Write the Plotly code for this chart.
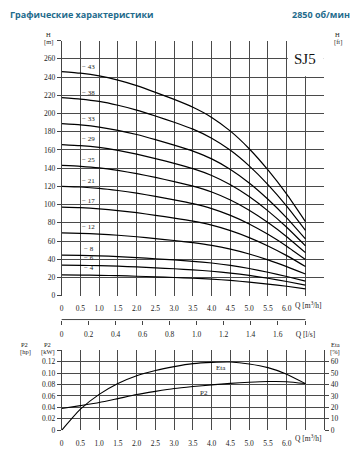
import numpy as np
import plotly.graph_objects as go

# ---------------- data ----------------
Q = [0, 0.5, 1.0, 1.5, 2.0, 2.5, 3.0, 3.5, 4.0, 4.5, 5.0, 5.5, 6.0, 6.5]

H_43 = [246.0, 244.2, 241.2, 236.5, 230.5, 223.2, 215.4, 206.8, 195.7, 180.6, 161.3, 138.0, 111.4, 81.3]
H_38 = [217.4, 215.8, 213.2, 209.0, 203.7, 197.2, 190.4, 182.8, 172.9, 159.6, 142.5, 122.0, 98.4, 71.8]
H_33 = [188.8, 187.4, 185.1, 181.5, 176.9, 171.3, 165.3, 158.7, 150.2, 138.6, 123.8, 105.9, 85.5, 62.4]
H_29 = [165.9, 164.7, 162.7, 159.5, 155.4, 150.5, 145.3, 139.5, 132.0, 121.8, 108.8, 93.1, 75.1, 54.8]
H_25 = [143.0, 142.0, 140.3, 137.5, 134.0, 129.8, 125.3, 120.3, 113.8, 105.0, 93.8, 80.3, 64.8, 47.3]
H_21 = [120.1, 119.3, 117.8, 115.5, 112.6, 109.0, 105.2, 101.0, 95.6, 88.2, 78.8, 67.4, 54.4, 39.7]
H_17 = [97.2, 96.6, 95.4, 93.5, 91.1, 88.2, 85.2, 81.8, 77.4, 71.4, 63.8, 54.6, 44.0, 32.1]
H_12 = [69.0, 68.5, 67.7, 66.4, 64.7, 62.7, 60.6, 58.2, 55.2, 51.1, 45.8, 39.4, 32.0, 23.8]
H_8 = [44.6, 44.3, 43.8, 43.0, 41.9, 40.6, 39.3, 37.8, 35.9, 33.3, 29.9, 25.8, 21.1, 16.0]
H_6 = [33.6, 33.4, 33.0, 32.4, 31.6, 30.6, 29.6, 28.4, 26.9, 24.9, 22.3, 19.2, 15.6, 11.7]
H_4 = [22.9, 22.7, 22.4, 22.0, 21.4, 20.8, 20.0, 19.2, 18.2, 16.8, 15.0, 12.8, 10.4, 7.6]

STAGE_LABELS = ["43", "38", "33", "29", "25", "21", "17", "12", "8", "6", "4"]
HEAD_CURVES = [H_43, H_38, H_33, H_29, H_25, H_21, H_17, H_12, H_8, H_6, H_4]

Q_ETA = [0, 0.25, 0.5, 1.0, 1.5, 2.0, 2.5, 3.0, 3.5, 4.0, 4.5, 5.0, 5.5, 6.0, 6.5]
ETA = [0, 9.5, 18.5, 31.4, 40.9, 47.7, 52.3, 55.7, 58.3, 59.4, 59.7, 58.0, 54.8, 49.1, 40.8]

Q_P2 = [0, 0.5, 1.0, 1.5, 2.0, 2.5, 3.0, 3.5, 4.0, 4.5, 5.0, 5.5, 6.0, 6.5]
P2_KW = [0.0382, 0.0432, 0.0485, 0.0554, 0.0625, 0.0680, 0.0730, 0.0765, 0.0795, 0.0820, 0.0840, 0.0853, 0.0850, 0.0817]

Q_TICKS = [0, 0.5, 1.0, 1.5, 2.0, 2.5, 3.0, 3.5, 4.0, 4.5, 5.0, 5.5, 6.0, 6.5]
Q_TICKTEXT = ["0", "0.5", "1.0", "1.5", "2.0", "2.5", "3.0", "3.5", "4.0", "4.5", "5.0", "5.5", "6.0", ""]
Q_UNIT = "Q [m<sup>3</sup>/h]"
LS_TICKS = [0, 0.2, 0.4, 0.6, 0.8, 1.0, 1.2, 1.4, 1.6, 6.5 / 3.6]
LS_TICKTEXT = ["0", "0.2", "0.4", "0.6", "0.8", "1.0", "1.2", "1.4", "1.6", "Q [l/s]"]
H_M_TICKS = list(range(0, 281, 20))
H_M_TICKTEXT = [str(v) for v in range(0, 261, 20)] + [" "]
H_FT_TICKS = list(range(0, 801, 100))
KW_TICKS = [0, 0.02, 0.04, 0.06, 0.08, 0.10, 0.12, 0.14]
KW_TICKTEXT = ["0", "0.02", "0.04", "0.06", "0.08", "0.10", "0.12", " "]
HP_TICKS = [0, 0.04, 0.08, 0.12, 0.16]
HP_TICKTEXT = ["0", "0.04", "0.08", "0.12", "0.16"]
ETA_TICKS = [0, 10, 20, 30, 40, 50, 60]

M_TO_FT = 3.28084
KW_TO_HP = 1.34102
M3H_TO_LS = 1 / 3.6

# ---------------- style ----------------
W, H = 360, 450
GRID = "#4a4a4a"
AX = "#444444"
TXT = "#222222"
SERIF = "Liberation Serif"
TITLE_C = "#1f6b8c"


def px_x(p):
    return p / W


def px_y(p):
    return 1 - p / H


X_DOM = [px_x(60), px_x(324)]
TOP_DOM = [px_y(297.7), px_y(37.3)]
BOT_DOM = [px_y(435), px_y(353.3)]
X_RANGE = [0, 7.0]
Q_END_PX = 60 + 6.5 * 264 / 7

fig = go.Figure()

for lab, hv in zip(STAGE_LABELS, HEAD_CURVES):
    fig.add_trace(go.Scatter(x=Q, y=hv, mode="lines",
                             line=dict(color="black", width=1.2, shape="spline", smoothing=0.5),
                             xaxis="x", yaxis="y", showlegend=False, hoverinfo="skip"))

# invisible trace so that the l/s axis is drawn
fig.add_trace(go.Scatter(x=[0, LS_TICKS[-1]], y=[None, None], mode="lines", xaxis="x2", yaxis="y",
                         showlegend=False, hoverinfo="skip"))

fig.add_trace(go.Scatter(x=Q_ETA, y=ETA, mode="lines",
                         line=dict(color="black", width=1.1, shape="spline", smoothing=0.6),
                         xaxis="x3", yaxis="y5", showlegend=False, hoverinfo="skip"))
fig.add_trace(go.Scatter(x=Q_P2, y=P2_KW, mode="lines",
                         line=dict(color="black", width=1.1, shape="spline", smoothing=0.6),
                         xaxis="x3", yaxis="y3", showlegend=False, hoverinfo="skip"))

tickfont = dict(family=SERIF, size=7.5, color=TXT)

fig.update_layout(
    width=W, height=H, autosize=False,
    margin=dict(l=0, r=0, t=0, b=0),
    paper_bgcolor="white", plot_bgcolor="white",
    font=dict(family=SERIF, size=7.5, color=TXT),
    xaxis=dict(domain=X_DOM, range=X_RANGE, anchor="y", tickmode="array", tickvals=Q_TICKS, ticktext=Q_TICKTEXT,
               showgrid=True, gridcolor=GRID, gridwidth=1, zeroline=False, showline=False, ticks="",
               tickangle=0, tickfont=tickfont, ticklabelstandoff=7),
    yaxis=dict(domain=TOP_DOM, range=[0, 280], anchor="x", tickmode="array", tickvals=H_M_TICKS,
               ticktext=H_M_TICKTEXT, showgrid=True, gridcolor=GRID, gridwidth=1, zeroline=False,
               showline=True, linecolor=AX, linewidth=1, ticks="outside", ticklen=4, tickcolor=AX,
               tickfont=tickfont),
    yaxis2=dict(overlaying="y", side="right", anchor="x", range=[0, 280 * M_TO_FT], tickmode="array",
                tickvals=H_FT_TICKS, showgrid=False, zeroline=False, showline=True, linecolor=AX, linewidth=1,
                ticks="outside", ticklen=4, tickcolor=AX, tickfont=tickfont),
    xaxis2=dict(overlaying="x", range=[0, 7.0 * M3H_TO_LS], anchor="free", position=px_y(322), side="bottom",
                tickmode="array", tickvals=LS_TICKS, ticktext=LS_TICKTEXT, showgrid=False, zeroline=False,
                showline=False, ticks="outside", ticklen=4, tickcolor=AX, tickangle=0, tickfont=tickfont,
                ticklabelstandoff=3),
    xaxis3=dict(domain=X_DOM, range=X_RANGE, anchor="y3", tickmode="array", tickvals=Q_TICKS, ticktext=Q_TICKTEXT,
                showgrid=True, gridcolor=GRID, gridwidth=1, zeroline=False, showline=False, ticks="",
                tickangle=0, tickfont=tickfont, ticklabelstandoff=7),
    yaxis3=dict(domain=BOT_DOM, range=[0, 0.14], anchor="x3", tickmode="array", tickvals=KW_TICKS,
                ticktext=KW_TICKTEXT, showgrid=True, gridcolor=GRID, gridwidth=1, zeroline=False,
                showline=True, linecolor=AX, linewidth=1, ticks="outside", ticklen=4, tickcolor=AX,
                tickfont=tickfont),
    yaxis4=dict(overlaying="y3", anchor="free", position=px_x(36.5), side="left", range=[0, 0.14 * KW_TO_HP],
                tickmode="array", tickvals=HP_TICKS, ticktext=HP_TICKTEXT, showgrid=False, zeroline=False,
                showline=True, linecolor=AX, linewidth=1, ticks="outside", ticklen=4, tickcolor=AX,
                tickfont=tickfont),
    yaxis5=dict(overlaying="y3", anchor="x3", side="right", range=[0, 70], tickmode="array", tickvals=ETA_TICKS,
                showgrid=False, zeroline=False, showline=True, linecolor=AX, linewidth=1, ticks="outside",
                ticklen=4, tickcolor=AX, tickfont=tickfont),
)

# SJ5 box and l/s axis line
fig.add_shape(type="rect", xref="x", yref="y", x0=6.03, x1=6.99, y0=240.8, y1=285,
              fillcolor="white", line=dict(width=0), layer="above")
fig.add_shape(type="line", xref="paper", yref="paper", x0=px_x(60), x1=px_x(Q_END_PX),
              y0=px_y(322), y1=px_y(322), line=dict(color=AX, width=1))

ann = []
ann.append(dict(x=6.5, y=260, xref="x", yref="y", text="SJ5", showarrow=False,
                font=dict(family=SERIF, size=15, color="#111")))

LABEL_Q = 0.72
for lab, hv in zip(STAGE_LABELS, HEAD_CURVES):
    ann.append(dict(x=LABEL_Q, y=float(np.interp(LABEL_Q, Q, hv)), xref="x", yref="y", text="− " + lab,
                    showarrow=False, yshift=7, font=dict(family=SERIF, size=7, color=TXT)))

ann.append(dict(x=4.25, y=float(np.interp(4.25, Q_ETA, ETA)), xref="x3", yref="y5", text="Eta", showarrow=False,
                yshift=-6, font=dict(family=SERIF, size=7, color=TXT)))
ann.append(dict(x=3.8, y=float(np.interp(3.8, Q_P2, P2_KW)), xref="x3", yref="y3", text="P2", showarrow=False,
                yshift=-7, font=dict(family=SERIF, size=7, color=TXT)))


def label(xp, yp, text, size=6.5, xanchor="center"):
    ann.append(dict(x=px_x(xp), y=px_y(yp), xref="paper", yref="paper", text=text, showarrow=False,
                    xanchor=xanchor, yanchor="middle", font=dict(family=SERIF, size=size, color=TXT)))


label(47, 31, "H")
label(47, 39, "[m]")
label(337, 31, "H")
label(338, 39, "[ft]")
label(23, 347, "P2")
label(24, 355.5, "[hp]")
label(46, 347, "P2")
label(46, 355.5, "[kW]")
label(335, 347, "Eta")
label(335, 355.5, "[%]")
label(308, 307.5, Q_UNIT, size=7.5)
label(308, 443, Q_UNIT, size=7.5)

ann.append(dict(x=px_x(6), y=px_y(10.5), xref="paper", yref="paper", text="<b>Графические характеристики</b>",
                showarrow=False, xanchor="left", yanchor="middle",
                font=dict(family="Open Sans", size=9, color=TITLE_C)))
ann.append(dict(x=px_x(352), y=px_y(10.5), xref="paper", yref="paper", text="<b>2850 об/мин</b>",
                showarrow=False, xanchor="right", yanchor="middle",
                font=dict(family="Open Sans", size=9, color=TITLE_C)))

fig.update_layout(annotations=ann)

fig.write_html("out.html", config={"displayModeBar": False},
               post_script="document.body.style.margin='0';document.body.style.padding='0';")
